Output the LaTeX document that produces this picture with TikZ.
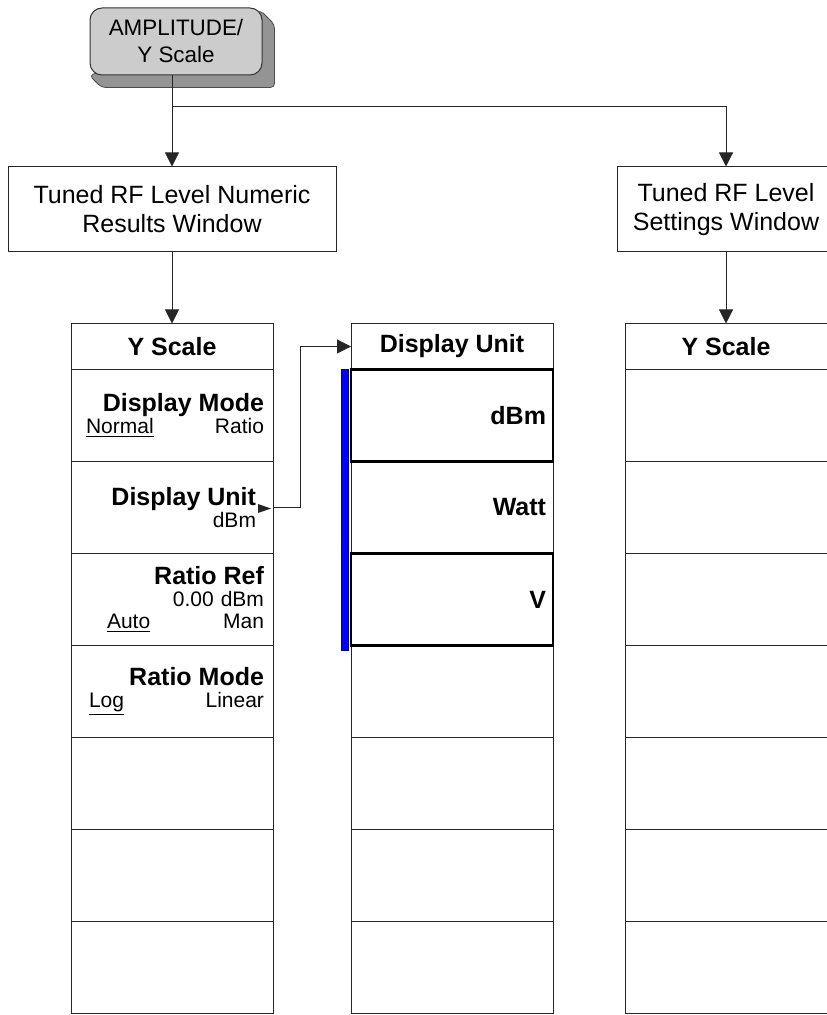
\documentclass[tikz,border=0pt]{standalone}
\usepackage{fontspec}
\setmainfont{Liberation Sans}
\usetikzlibrary{arrows.meta,positioning,calc,backgrounds}
\newcommand{\rowtitle}[1]{{\fontsize{12.5}{11}\selectfont\bfseries #1}}

\begin{document}
\begin{tikzpicture}[
  x=0.5pt, y=-0.5pt,
  line width=0.5pt,
  arr/.style={-{Triangle[length=7pt,width=7pt]}, draw=black!85},
  keybox/.style={draw=black!80, fill=black!20, rounded corners=6pt, minimum width=86pt, minimum height=33.5pt, align=center, font=\fontsize{11.2}{13.5}\selectfont},
  keyshade/.style={draw=black!70, fill=black!42, rounded corners=2pt},
  winbox/.style={draw=black!85, minimum height=42.5pt, align=center, font=\fontsize{12.5}{14.5}\selectfont},
  headbox/.style={draw=black!85, minimum width=101pt, minimum height=23pt, outer sep=0pt, font=\fontsize{12.5}{14}\selectfont\bfseries},
  rowbox/.style={draw=black!85, minimum width=101pt, minimum height=46pt, outer sep=0pt, text width=92pt, inner xsep=4.5pt, align=right, font=\fontsize{10.5}{11.2}\selectfont},
  unitbox/.style={rowbox, text width=94pt, inner xsep=3.5pt, font=\fontsize{12.5}{14}\selectfont\bfseries},
  selrow/.style={draw=black, line width=1.2pt},
]
\useasboundingbox (0,0) rectangle (826,1015);

% hard key
\node[keybox] (key) at (176,41.5) {AMPLITUDE/\\Y Scale};
\begin{scope}[on background layer]
  \filldraw[keyshade] ($(key.north east)+(-2,3)$) -- ++(14,14) -- ($(key.south east)+(12,12)$)
    -- ($(key.south west)+(12,12)$) -- ++(-12,-12) -- cycle;
\end{scope}

% windows
\node[winbox, minimum width=164pt] (numwin) at (172,209.5) {Tuned RF Level Numeric\\Results Window};

% left menu
\node[headbox, below=35.5pt of numwin] (ysl) {Y Scale};
\node[rowbox, below=0pt of ysl] (dmode) {\rowtitle{Display Mode}\\\hspace*{3pt}\underline{Normal}\hfill Ratio};
\node[rowbox, below=0pt of dmode] (dunit) {\rowtitle{Display Unit}\kern4pt\\dBm\kern4pt};
\node[rowbox, below=0pt of dunit] (rref) {\rowtitle{Ratio Ref}\\0.00 dBm\\\hspace*{13.5pt}\underline{Auto}\hfill Man};
\node[rowbox, below=0pt of rref] (rmode) {\rowtitle{Ratio Mode}\\\hspace*{4.5pt}\underline{Log}\hfill Linear};
\foreach \n/\p in {l5/rmode, l6/l5, l7/l6}
  \node[rowbox, below=0pt of \p] (\n) {};

% display unit menu
\node[headbox, right=39pt of ysl] (duhead) {Display Unit};
\node[unitbox, below=0pt of duhead] (dbm) {dBm};
\node[unitbox, below=0pt of dbm] (watt) {Watt};
\node[unitbox, below=0pt of watt] (volt) {V};
\foreach \n/\p in {m4/volt, m5/m4, m6/m5, m7/m6}
  \node[rowbox, below=0pt of \p] (\n) {};
\draw[selrow] (dbm.north west) rectangle (dbm.south east);
\draw[selrow] (volt.north west) rectangle (volt.south east);
\filldraw[fill=blue, draw=blue!60!black, line width=0.3pt] ($(dbm.north west)+(-10,0)$) rectangle ($(volt.south west)+(-3,5)$);

% right menu
\node[headbox, right=36pt of duhead] (ysr) {Y Scale};
\foreach \n/\p in {r1/ysr, r2/r1, r3/r2, r4/r3, r5/r4, r6/r5, r7/r6}
  \node[rowbox, below=0pt of \p] (\n) {};
\node[winbox, minimum width=109pt, above=35.5pt of ysr] (setwin) {Tuned RF Level\\Settings Window};

% connectors
\coordinate (split) at ($(key.south -| numwin.north)!0.34!(numwin.north)$);
\draw[arr] (key.south -| numwin.north) -- (numwin.north);
\draw[arr] (split) -| (setwin.north);
\draw[arr] (numwin.south) -- (ysl.north);
\draw[arr] (setwin.south) -- (ysr.north);
\draw[arr] (dunit.east) -- ++(27,0) |- (duhead.west);
\fill[black!85] ($(dunit.east)+(-2,1)$) -- ++(-13,-4.5) -- ++(0,9) -- cycle;
\end{tikzpicture}
\end{document}
